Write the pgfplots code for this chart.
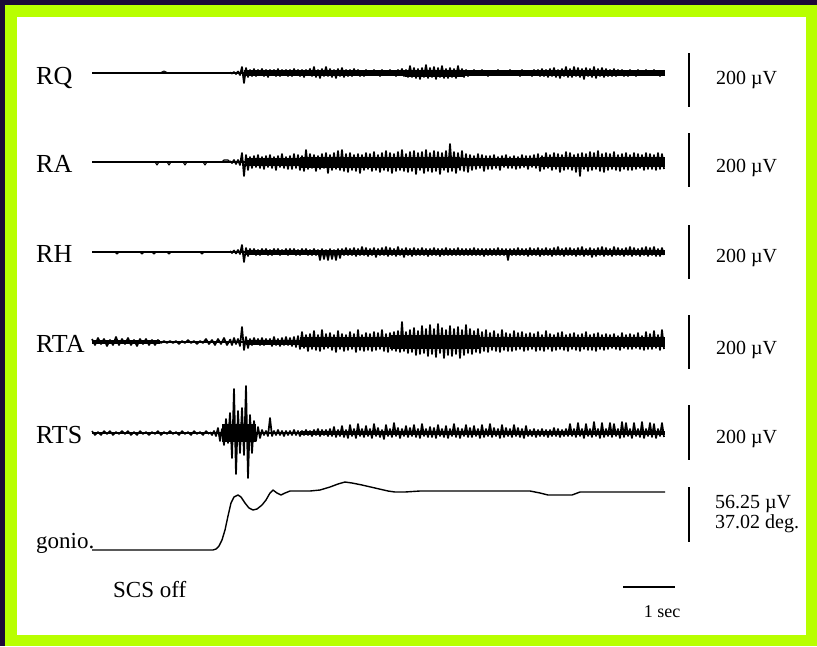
\documentclass[border=0pt]{standalone}
\usepackage{pgfplots}
\pgfplotsset{compat=1.18}
\usepackage{pgfplotstable}
\usepackage{fontspec}
\setmainfont{Liberation Serif}
\definecolor{limeframe}{RGB}{184,255,0}
\definecolor{darkframe}{RGB}{28,8,56}

% EMG traces: signed deflections in px (positive = up), sampled every 2 px from x=230
\pgfplotstableread[row sep=\\]{v\\
0.5\\-0.5\\1\\-1\\1.5\\-2\\6\\-10\\5\\-4\\
3\\-3\\4\\-3\\3\\-2\\4\\-3\\3\\-4\\
3\\-2\\3\\-3\\4\\-3\\3\\-2\\3\\-3\\
3\\-3\\4\\-2\\3\\-3\\3\\-4\\3\\-2\\
4\\-3\\6\\-4\\3\\-5\\4\\-3\\6\\-3\\
4\\-4\\3\\-5\\4\\-3\\5\\-4\\3\\-3\\
3\\-3\\4\\-2\\3\\-3\\2\\-3\\3\\-2\\
2\\-2\\3\\-2\\2\\-3\\3\\-2\\2\\-2\\
3\\-2\\2\\-3\\3\\-2\\4\\-3\\3\\-4\\
7\\-4\\5\\-5\\4\\-6\\5\\-4\\8\\-5\\
5\\-4\\6\\-6\\5\\-4\\7\\-5\\4\\-5\\
5\\-4\\4\\-5\\7\\-3\\4\\-4\\3\\-3\\
2\\-2\\3\\-2\\2\\-2\\3\\-2\\2\\-3\\
2\\-2\\2\\-2\\3\\-2\\2\\-2\\2\\-2\\
3\\-2\\2\\-2\\2\\-3\\3\\-2\\2\\-2\\
2\\-3\\3\\-2\\3\\-3\\4\\-3\\3\\-4\\
4\\-3\\5\\-4\\3\\-5\\4\\-3\\6\\-4\\
4\\-4\\6\\-3\\5\\-4\\4\\-6\\5\\-3\\
4\\-4\\6\\-5\\4\\-3\\5\\-4\\4\\-3\\
3\\-3\\4\\-3\\3\\-2\\3\\-3\\2\\-3\\
3\\-2\\2\\-3\\3\\-2\\2\\-2\\3\\-2\\
2\\-2\\3\\-2\\2\\-3\\2\\-2\\
}\rqdata

\pgfplotstableread[row sep=\\]{v\\
1\\-1\\2\\-2\\2\\-3\\9\\-14\\7\\-8\\
5\\-6\\6\\-5\\7\\-6\\5\\-7\\6\\-5\\
7\\-6\\5\\-8\\6\\-5\\8\\-6\\5\\-7\\
6\\-7\\8\\-6\\7\\-8\\6\\-9\\12\\-7\\
8\\-6\\7\\-9\\6\\-7\\8\\-6\\9\\-11\\
7\\-8\\9\\-7\\11\\-8\\12\\-9\\8\\-10\\
9\\-8\\7\\-9\\8\\-11\\7\\-8\\9\\-7\\
8\\-9\\10\\-8\\7\\-10\\9\\-8\\11\\-9\\
9\\-11\\8\\-9\\10\\-8\\12\\-9\\8\\-10\\
10\\-9\\11\\-12\\9\\-8\\10\\-11\\12\\-9\\
9\\-10\\11\\-9\\10\\-12\\9\\-8\\11\\-10\\
18\\-9\\10\\-11\\9\\-8\\11\\-9\\8\\-10\\
7\\-8\\6\\-7\\8\\-6\\7\\-9\\6\\-7\\
6\\-7\\7\\-6\\5\\-8\\6\\-5\\7\\-6\\
5\\-6\\6\\-7\\5\\-6\\7\\-5\\6\\-7\\
6\\-5\\7\\-6\\8\\-9\\6\\-7\\9\\-6\\
7\\-8\\9\\-7\\8\\-10\\7\\-8\\10\\-7\\
9\\-8\\7\\-10\\8\\-14\\9\\-7\\8\\-9\\
10\\-8\\9\\-7\\11\\-9\\8\\-10\\9\\-8\\
8\\-7\\10\\-8\\7\\-9\\8\\-7\\9\\-8\\
7\\-8\\9\\-7\\8\\-6\\7\\-8\\9\\-7\\
8\\-7\\7\\-8\\9\\-7\\8\\-7\\
}\radata

\pgfplotstableread[row sep=\\]{v\\
1\\-1\\1.5\\-1.5\\2\\-2\\7\\-10\\4\\-4\\
3\\-2\\3\\-3\\2\\-3\\3\\-2\\3\\-3\\
2\\-3\\3\\-2\\3\\-3\\2\\-2\\3\\-3\\
3\\-2\\3\\-3\\2\\-3\\3\\-2\\3\\-3\\
2\\-3\\3\\-3\\2\\-8\\3\\-7\\2\\-8\\
3\\-7\\2\\-8\\3\\-6\\3\\-3\\4\\-3\\
3\\-3\\4\\-4\\3\\-3\\5\\-3\\4\\-4\\
3\\-3\\4\\-5\\3\\-3\\4\\-3\\5\\-4\\
4\\-3\\3\\-4\\5\\-3\\3\\-5\\4\\-3\\
3\\-4\\4\\-3\\3\\-3\\4\\-3\\3\\-4\\
3\\-3\\4\\-3\\3\\-4\\3\\-3\\4\\-3\\
3\\-3\\3\\-3\\4\\-3\\3\\-3\\3\\-3\\
3\\-3\\4\\-3\\3\\-3\\3\\-4\\3\\-3\\
3\\-3\\3\\-3\\4\\-3\\3\\-3\\3\\-8\\
3\\-3\\3\\-3\\4\\-3\\3\\-3\\3\\-4\\
4\\-3\\3\\-3\\4\\-4\\3\\-3\\4\\-3\\
3\\-4\\4\\-3\\5\\-3\\3\\-4\\4\\-3\\
4\\-3\\3\\-4\\4\\-3\\5\\-4\\3\\-3\\
4\\-5\\3\\-4\\4\\-3\\5\\-4\\4\\-3\\
3\\-4\\5\\-3\\4\\-3\\3\\-4\\4\\-3\\
5\\-4\\4\\-3\\3\\-4\\4\\-3\\5\\-4\\
4\\-3\\5\\-4\\3\\-4\\4\\-3\\
}\rhdata

% RTA before onset: every 3 px from x=92
\pgfplotstableread[row sep=\\]{v\\
3\\-3\\4\\-2\\3\\-4\\2\\-3\\5\\-3\\
3\\-2\\4\\-3\\2\\-4\\3\\-2\\3\\-3\\
2\\-3\\2\\-1\\1\\-1\\1\\-1\\1\\-2\\
1\\-1\\2\\-1\\1\\-2\\1\\-1\\3\\-2\\
2\\-3\\3\\-2\\4\\-3\\2\\
}\rtapre

\pgfplotstableread[row sep=\\]{v\\
3\\-3\\4\\-2\\3\\-4\\15\\-8\\5\\-6\\
3\\-3\\4\\-2\\3\\-3\\4\\-3\\3\\-2\\
3\\-4\\5\\-3\\3\\-4\\4\\-3\\5\\-3\\
4\\-4\\5\\-5\\6\\-7\\10\\-6\\7\\-9\\
8\\-7\\11\\-8\\7\\-9\\12\\-7\\8\\-6\\
9\\-8\\7\\-10\\11\\-7\\8\\-9\\7\\-8\\
10\\-7\\8\\-10\\12\\-8\\7\\-9\\9\\-8\\
8\\-9\\10\\-8\\9\\-7\\12\\-9\\8\\-10\\
9\\-8\\10\\-9\\11\\-10\\20\\-9\\10\\-11\\
12\\-10\\14\\-13\\11\\-12\\16\\-11\\13\\-14\\
17\\-12\\13\\-15\\18\\-11\\14\\-16\\12\\-13\\
16\\-14\\13\\-12\\15\\-16\\12\\-13\\17\\-11\\
13\\-12\\11\\-10\\13\\-11\\10\\-9\\12\\-10\\
9\\-8\\11\\-9\\8\\-10\\12\\-8\\9\\-9\\
8\\-9\\11\\-8\\9\\-7\\10\\-9\\8\\-8\\
9\\-7\\8\\-9\\10\\-8\\7\\-9\\11\\-7\\
8\\-9\\7\\-8\\9\\-7\\10\\-8\\7\\-9\\
8\\-7\\9\\-8\\7\\-9\\8\\-7\\10\\-8\\
7\\-8\\8\\-9\\9\\-7\\7\\-8\\8\\-7\\
7\\-6\\8\\-7\\6\\-8\\9\\-6\\7\\-7\\
8\\-7\\7\\-6\\9\\-7\\6\\-8\\10\\-7\\
8\\-7\\11\\-6\\7\\-8\\12\\-7\\
}\rtadata

% RTS before onset: every 3 px from x=92
\pgfplotstableread[row sep=\\]{v\\
2\\-2\\1\\-2\\2\\-1\\2\\-2\\1\\-1\\
2\\-1\\2\\-2\\1\\-2\\2\\-1\\1\\-2\\
1\\-1\\2\\-2\\1\\-1\\2\\-1\\1\\-2\\
2\\-1\\1\\-2\\2\\-1\\1\\-2\\2\\-1\\
}\rtspre

% RTS every 2 px from x=210
\pgfplotstableread[row sep=\\]{v\\
1\\-2\\2\\-3\\5\\-8\\4\\-12\\14\\-10\\
20\\-25\\44\\-41\\22\\-20\\25\\-22\\47\\-45\\
18\\-20\\12\\-8\\6\\-5\\3\\-2\\2\\-3\\
15\\-3\\2\\-2\\3\\-2\\2\\-3\\2\\-2\\
2\\-2\\3\\-2\\2\\-3\\2\\-2\\3\\-2\\
2\\-3\\3\\-2\\4\\-3\\3\\-2\\3\\-3\\
4\\-3\\6\\-4\\3\\-3\\7\\-4\\3\\-5\\
8\\-3\\4\\-5\\9\\-3\\4\\-4\\7\\-3\\
4\\-5\\9\\-3\\5\\-4\\3\\-6\\8\\-3\\
4\\-4\\10\\-3\\5\\-5\\4\\-3\\7\\-4\\
5\\-3\\8\\-4\\4\\-5\\9\\-3\\4\\-4\\
6\\-4\\5\\-5\\8\\-3\\4\\-4\\7\\-5\\
4\\-3\\9\\-4\\5\\-5\\4\\-3\\8\\-4\\
5\\-4\\7\\-3\\4\\-5\\8\\-4\\4\\-3\\
9\\-4\\5\\-3\\4\\-5\\8\\-4\\5\\-3\\
4\\-4\\8\\-3\\5\\-4\\4\\-5\\7\\-3\\
3\\-3\\4\\-4\\3\\-3\\4\\-3\\3\\-4\\
3\\-3\\5\\-3\\4\\-4\\3\\-3\\4\\-3\\
9\\-3\\4\\-4\\10\\-3\\4\\-5\\9\\-3\\
4\\-4\\11\\-3\\4\\-5\\10\\-4\\4\\-3\\
10\\-4\\9\\-3\\4\\-5\\11\\-4\\10\\-3\\
4\\-5\\10\\-3\\4\\-4\\11\\-5\\4\\-3\\
10\\-4\\9\\-5\\4\\-3\\10\\-4\\
}\rtsdata

\begin{document}
\begin{tikzpicture}
\begin{axis}[
  hide axis, scale only axis,
  width=817pt, height=646pt,
  xmin=0, xmax=817, ymin=0, ymax=646,
  y dir=reverse, clip=false,
  trace/.style={black, line width=1.75pt, line join=round},
  blip/.style={black, line width=1.1pt, line join=round},
  base/.style={black, line width=2.6pt},
  bar/.style={black, line width=1.4pt},
]
% frame
\fill[darkframe] (axis cs:0,0) rectangle (axis cs:817,646);
\fill[limeframe] (axis cs:5,5) rectangle (axis cs:817,646);
\fill[white] (axis cs:17,17) rectangle (axis cs:806,635);

% baselines
\addplot[base] coordinates {(92,73) (665,73)};
\addplot[base] coordinates {(92,162) (665,162)};
\addplot[base] coordinates {(92,252) (665,252)};
\addplot[base] coordinates {(92,342) (665,342)};
\addplot[base] coordinates {(92,433) (665,433)};

% solid cores of the active bands
\addplot[black, line width=5.5pt] coordinates {(244,73) (665,73)};
\addplot[black, line width=7pt] coordinates {(405,73) (465,73)};
\addplot[black, line width=8pt] coordinates {(246,162) (300,162)};
\addplot[black, line width=11pt] coordinates {(300,162) (460,162)};
\addplot[black, line width=8pt] coordinates {(460,162) (540,162)};
\addplot[black, line width=10pt] coordinates {(540,162) (665,162)};
\addplot[black, line width=5pt] coordinates {(246,252) (665,252)};
\addplot[black, line width=4pt] coordinates {(92,342) (160,342)};
\addplot[black, line width=5pt] coordinates {(246,342) (300,342)};
\addplot[black, line width=10pt] coordinates {(300,342) (390,342)};
\addplot[black, line width=14pt] coordinates {(390,342) (480,342)};
\addplot[black, line width=10pt] coordinates {(480,342) (665,342)};
\addplot[black, line width=18pt] coordinates {(222,433) (256,433)};
\addplot[black, line width=4.5pt] coordinates {(300,433) (665,433)};

% small blips before onset
\addplot[blip] coordinates {(160,73) (164,71) (168,73)};
\addplot[blip] coordinates {(155,162) (157,165) (159,162) (167,162) (169,165) (171,162) (183,162) (185,165) (187,162) (203,162) (205,165) (207,162) (222,162) (224,160) (228,160) (230,162)};
\addplot[blip] coordinates {(115,252) (117,254) (119,252) (140,252) (142,254) (144,252) (152,252) (154,254) (156,252) (167,252) (169,254) (171,252) (200,252) (202,254) (204,252)};

% EMG traces
\addplot[trace] table[x index=0, y index=0, x expr=230+2*\coordindex, y expr=73-\thisrow{v}] {\rqdata};
\addplot[trace] table[x index=0, y index=0, x expr=230+2*\coordindex, y expr=162-\thisrow{v}] {\radata};
\addplot[trace] table[x index=0, y index=0, x expr=230+2*\coordindex, y expr=252-\thisrow{v}] {\rhdata};
\addplot[trace] table[x index=0, y index=0, x expr=92+3*\coordindex, y expr=342-\thisrow{v}] {\rtapre};
\addplot[trace] table[x index=0, y index=0, x expr=230+2*\coordindex, y expr=342-\thisrow{v}] {\rtadata};
\addplot[blip, line width=1.5pt] table[x index=0, y index=0, x expr=92+3*\coordindex, y expr=433-\thisrow{v}] {\rtspre};
\addplot[trace] table[x index=0, y index=0, x expr=210+2*\coordindex, y expr=433-\thisrow{v}] {\rtsdata};

% goniometer
\addplot[black, line width=1.4pt, line join=round] coordinates {
(92,550) (213,550) (216,549) (219,546) (222,540) (225,530) (228,516) (231,503)
(234,497) (238,495) (241,497) (245,503) (249,508) (253,510) (257,509) (262,505)
(266,500) (270,493) (273,490) (277,493) (281,495) (285,493) (290,491) (300,491)
(310,491) (320,490) (330,487) (338,484) (345,482) (352,483) (362,485) (375,488)
(388,491) (395,492) (405,492) (420,491) (460,491) (500,491) (530,491) (540,493)
(548,495) (572,495) (580,492) (600,492) (640,492) (665,492)};

% scale bars
\addplot[bar] coordinates {(689,53) (689,107)};
\addplot[bar] coordinates {(689,133) (689,187)};
\addplot[bar] coordinates {(689,225) (689,279)};
\addplot[bar] coordinates {(689,315) (689,369)};
\addplot[bar] coordinates {(689,405) (689,460)};
\addplot[bar] coordinates {(689,487) (689,542)};
\addplot[black, line width=1.8pt] coordinates {(623,587) (675,587)};

% labels
\begin{scope}[every node/.style={anchor=base west, inner sep=0pt, font=\fontsize{26}{28}\selectfont}]
\node at (axis cs:36,84) {RQ};
\node at (axis cs:36,172) {RA};
\node at (axis cs:36,262) {RH};
\node at (axis cs:36,352) {RTA};
\node at (axis cs:36,443) {RTS};
\node[font=\fontsize{23}{25}\selectfont] at (axis cs:36,548) {gonio.};
\node[font=\fontsize{23}{25}\selectfont] at (axis cs:113,597) {SCS off};
\end{scope}
\begin{scope}[every node/.style={anchor=base west, inner sep=0pt, font=\fontsize{20}{22}\selectfont}]
\node at (axis cs:716,84) {200 µV};
\node at (axis cs:716,172) {200 µV};
\node at (axis cs:716,262) {200 µV};
\node at (axis cs:716,354) {200 µV};
\node at (axis cs:716,443) {200 µV};
\node at (axis cs:715,508) {56.25 µV};
\node at (axis cs:715,528) {37.02 deg.};
\end{scope}
\node[anchor=base, inner sep=0pt, font=\fontsize{18}{20}\selectfont] at (axis cs:662,617) {1 sec};
\end{axis}
\end{tikzpicture}
\end{document}
